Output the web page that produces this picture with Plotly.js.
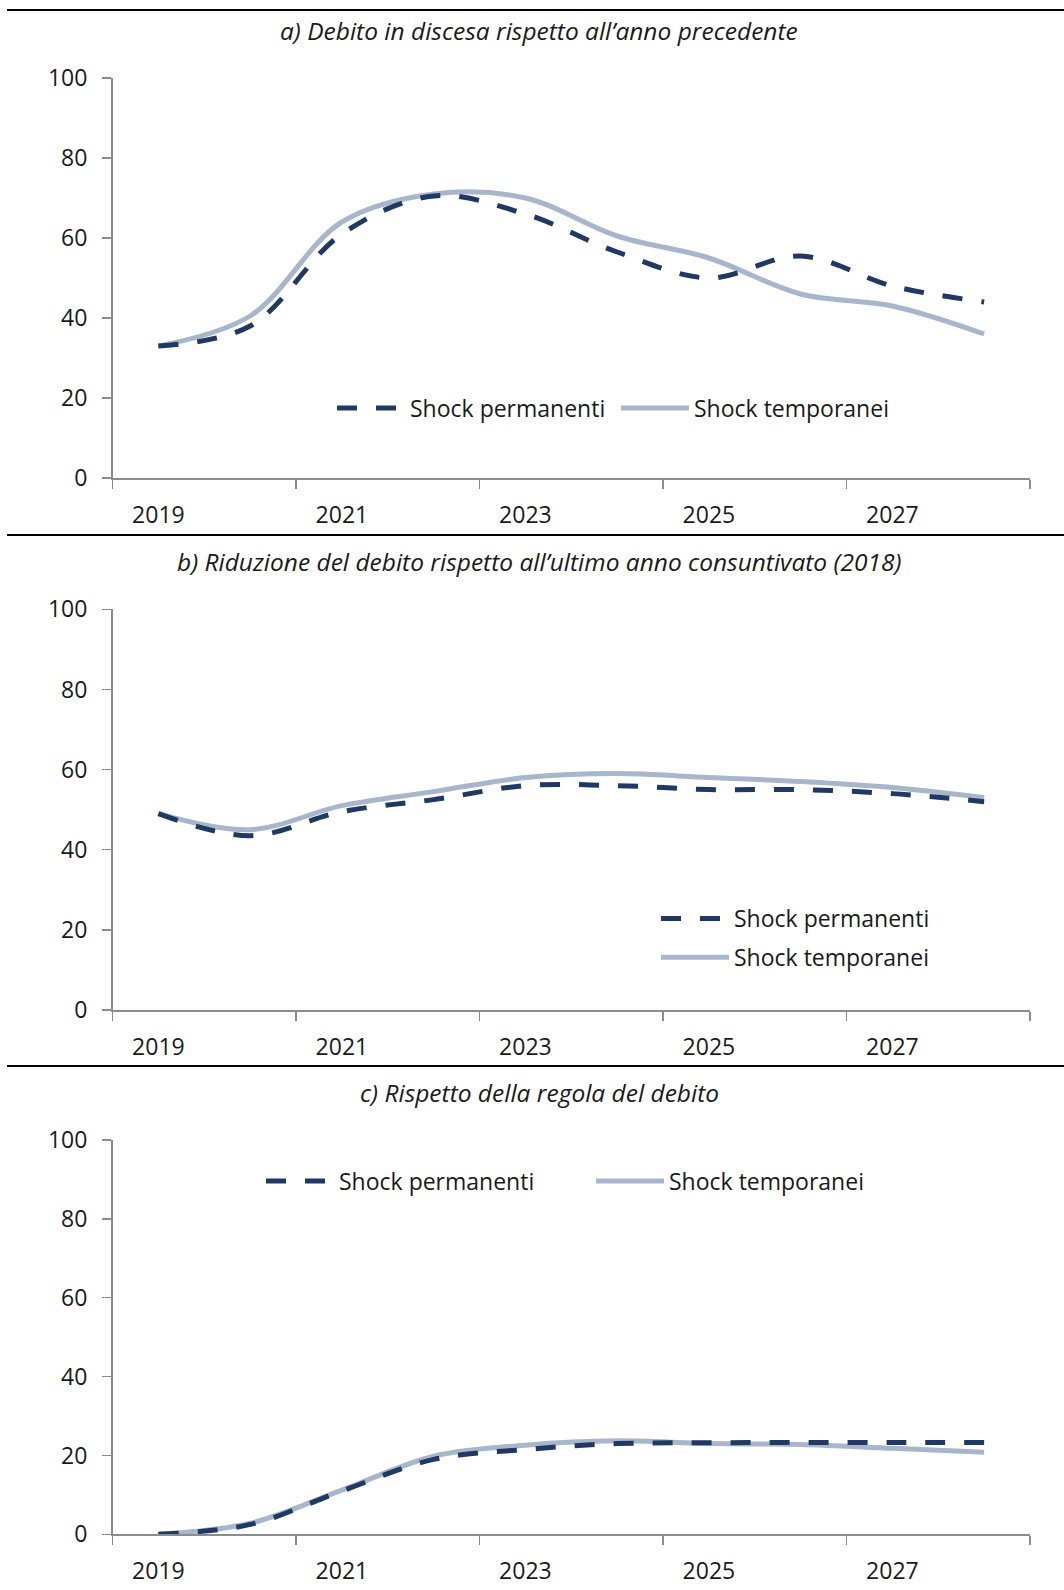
<!DOCTYPE html>
<html>
<head>
<meta charset="utf-8">
<script src="https://cdn.plot.ly/plotly-3.0.1.min.js"></script>
<style>
html,body{margin:0;padding:0;background:#fff;}
#chart{width:1064px;height:1590px;}
</style>
</head>
<body>
<div id="chart"></div>
<script>
// ---- data ----
const years = [2019, 2020, 2021, 2022, 2023, 2024, 2025, 2026, 2027, 2028];
const tickYears = [2019, 2021, 2023, 2025, 2027];

const titleA = "a) Debito in discesa rispetto all’anno precedente";
const titleB = "b) Riduzione del debito rispetto all’ultimo anno consuntivato (2018)";
const titleC = "c) Rispetto della regola del debito";

const seriesNames = ["Shock permanenti", "Shock temporanei"];

const aPermanenti = [33, 38, 61, 70.5, 66, 56.5, 50, 55.5, 48, 44];
const aTemporanei = [33, 40.5, 64, 71, 70, 60.5, 55, 46, 43, 36];

const bPermanenti = [49, 43.5, 49.5, 52.5, 56, 56, 55, 55, 54, 52];
const bTemporanei = [49, 45, 51, 54.5, 58, 59, 58, 57, 55.5, 53];

const cPermanenti = [0, 2.5, 11, 19, 21.5, 23, 23.2, 23.3, 23.3, 23.3];
const cTemporanei = [0, 2.8, 11.2, 19.8, 22.6, 23.7, 23, 22.8, 21.8, 20.8];

// category boundaries (ticks every two categories, as in the original)
const boundaries = years.filter((_, i) => i % 2 === 0).map(y => y - 0.5)
  .concat([years[years.length - 1] + 0.5]);

// ---- styles ----
const DARK = "#1f3864";
const LIGHT = "#a8b6cc";
const AXIS = "#8c8c8c";
const TXT = "#1a1a1a";
const FONT = "'Open Sans', Lato, sans-serif";

function permTrace(y, xa, ya, leg) {
  return {x: years, y: y, xaxis: xa, yaxis: ya, type: "scatter", mode: "lines",
    name: seriesNames[0], legend: leg, legendgroup: leg + "p", legendrank: 1,
    line: {color: DARK, width: 5, dash: "20px,19px", shape: "spline", smoothing: 1},
    hoverinfo: "skip"};
}
function tempTrace(y, xa, ya, leg) {
  return {x: years, y: y, xaxis: xa, yaxis: ya, type: "scatter", mode: "lines",
    name: seriesNames[1], legend: leg, legendgroup: leg + "t", legendrank: 2,
    line: {color: LIGHT, width: 5, shape: "spline", smoothing: 1},
    hoverinfo: "skip"};
}

const data = [
  tempTrace(aTemporanei, "x", "y", "legend"),
  permTrace(aPermanenti, "x", "y", "legend"),
  tempTrace(bTemporanei, "x2", "y2", "legend2"),
  permTrace(bPermanenti, "x2", "y2", "legend2"),
  tempTrace(cTemporanei, "x3", "y3", "legend3"),
  permTrace(cPermanenti, "x3", "y3", "legend3")
];

const H = 1590, W = 1064;
const xDom = [112.5 / W, 1030 / W];

function xAxis(anchor) {
  return {domain: xDom, anchor: anchor, type: "linear",
    range: [years[0] - 0.5, years[years.length - 1] + 0.5],
    tickmode: "array", tickvals: tickYears, ticktext: tickYears.map(String),
    ticks: "",
    minor: {tickmode: "array", tickvals: boundaries, ticks: "outside", ticklen: 9,
      tickwidth: 1.5, tickcolor: AXIS, showgrid: false},
    showline: true, linecolor: AXIS, linewidth: 1.5, showgrid: false, zeroline: false,
    ticklabelstandoff: 16,
    tickfont: {family: FONT, size: 23, color: TXT}, fixedrange: true};
}
function yAxis(top, bottom, anchor) {
  return {domain: [1 - bottom / H, 1 - top / H], anchor: anchor,
    range: [0, 100], tickmode: "linear", tick0: 0, dtick: 20,
    ticks: "outside", ticklen: 9, tickwidth: 1.5, tickcolor: AXIS,
    showline: true, linecolor: AXIS, linewidth: 1.5, showgrid: false, zeroline: false,
    ticklabelstandoff: 10,
    tickfont: {family: FONT, size: 23, color: TXT}, fixedrange: true};
}

const legFont = {family: FONT, size: 23, color: TXT};

const layout = {
  width: W, height: H,
  margin: {l: 0, r: 0, t: 0, b: 0},
  paper_bgcolor: "#fff", plot_bgcolor: "#fff",
  showlegend: true,
  xaxis: xAxis("y"), yaxis: yAxis(78, 478, "x"),
  xaxis2: xAxis("y2"), yaxis2: yAxis(609.3, 1010, "x2"),
  xaxis3: xAxis("y3"), yaxis3: yAxis(1140, 1534.3, "x3"),
  legend: {orientation: "h", x: 332 / W, y: 1 - 408 / H, xanchor: "left", yanchor: "middle",
    traceorder: "normal", itemwidth: 68, entrywidth: 201, entrywidthmode: "pixels",
    font: legFont, bgcolor: "rgba(0,0,0,0)"},
  legend2: {orientation: "v", x: 656 / W, y: 1 - 938 / H, xanchor: "left", yanchor: "middle",
    traceorder: "grouped", tracegroupgap: 6, itemwidth: 68,
    font: legFont, bgcolor: "rgba(0,0,0,0)"},
  legend3: {orientation: "h", x: 261 / W, y: 1 - 1181 / H, xanchor: "left", yanchor: "middle",
    traceorder: "normal", itemwidth: 68, entrywidth: 247, entrywidthmode: "pixels",
    font: legFont, bgcolor: "rgba(0,0,0,0)"},
  annotations: [
    {text: titleA, x: 539 / W, y: 1 - 30.5 / H},
    {text: titleB, x: 539 / W, y: 1 - 562 / H},
    {text: titleC, x: 539 / W, y: 1 - 1092 / H}
  ].map(a => Object.assign({xref: "paper", yref: "paper", xanchor: "center", yanchor: "middle",
    showarrow: false, font: {family: FONT, size: 24.5, color: TXT, style: "italic"}}, a)),
  shapes: [10, 535, 1066].map(py => ({type: "line", xref: "paper", yref: "paper",
    x0: 7 / W, x1: 1, y0: 1 - py / H, y1: 1 - py / H, line: {color: "#000", width: 2}}))
};

Plotly.newPlot("chart", data, layout, {staticPlot: true, displayModeBar: false});
</script>
</body>
</html>
